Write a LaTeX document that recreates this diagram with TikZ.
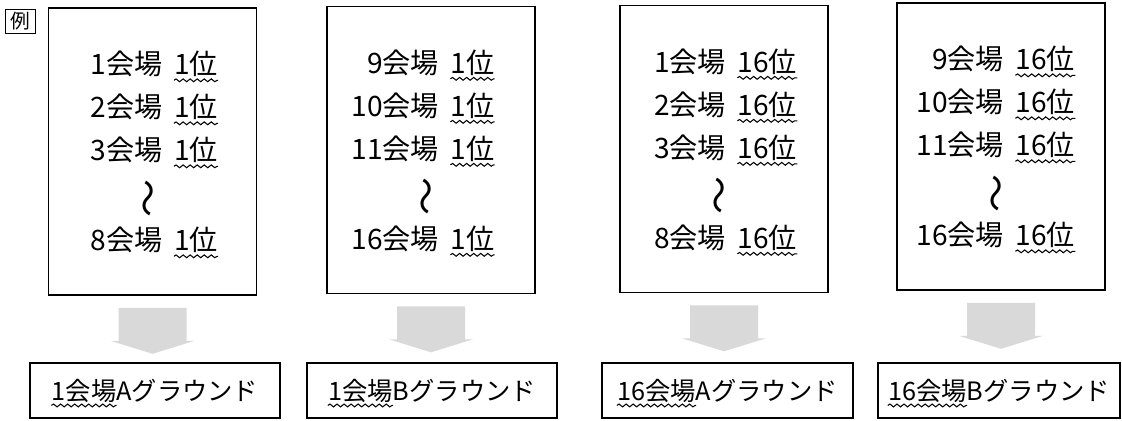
\documentclass[tikz,border=0pt]{standalone}
\usepackage{fontspec}
\setmainfont{Noto Sans CJK JP}
\usetikzlibrary{calc,positioning,decorations.pathmorphing}

\tikzset{
  listbox/.style={draw,line width=1.1pt,minimum width=5.2cm,minimum height=7.175cm,inner sep=0pt},
  venue/.style={anchor=east,inner sep=0pt,font=\fontsize{20}{20}\selectfont},
  rank/.style={anchor=west,inner sep=0pt,font=\fontsize{20}{20}\selectfont},
  wavy/.style={line width=0.75pt,decorate,decoration={snake,amplitude=1pt,segment length=5pt}},
  grbox/.style={draw,line width=1.1pt,minimum height=1.375cm,inner sep=0pt},
  grtext/.style={inner sep=0pt,font=\fontsize{18}{18}\selectfont},
  shade/.style={fill=gray!30,draw=none}
}

\begin{document}
\begin{tikzpicture}[x=0.025cm,y=-0.025cm]
\useasboundingbox (0,0) rectangle (1122,420);
\node (rei) [draw,line width=0.8pt,inner xsep=3.5pt,inner ysep=2pt,font=\fontsize{14}{14}\selectfont] at (20.5,21.5) {例};

% the four lists
\node (L1) [listbox] at (152.5,151.5) {};
\node (L2) [listbox] at (431,150) {};
\node (L3) [listbox] at (724,149) {};
\node (L4) [listbox] at (1001,146.5) {};

\foreach \b/\dx/\r/\va/\vb/\vc/\vd in {L1/115/1/1/2/3/8, L2/113/1/9/10/11/16, L3/107/16/1/2/3/8, L4/108/16/9/10/11/16}{
  \foreach \v/\dy [count=\i] in {\va/57,\vb/100,\vc/143,\vd/233}{
    \node (\b v\i) [venue] at ($(\b.north west)+(\dx,\dy)$) {\v 会場};
    \node (\b r\i) [rank,right=0.28cm of \b v\i] {\r 位};
    \draw [wavy] ($(\b r\i.south west)+(0,3)$) -- ($(\b r\i.south east)+(0,3)$);
  }
  \node (\b t) [venue,anchor=center,rotate=90,font=\fontsize{27}{27}\selectfont] at ($(\b.north)+(0,191)$) {〜};
  % shaded arrow down
  \fill [shade,shift={(\b.south)}] (-34,12) -- (34,12) -- (34,45) -- (42,45) -- (0,58) -- (-42,45) -- (-34,45) -- cycle;
}

% grounds
\node (G1) [grbox,minimum width=6.25cm] at (155,390.5) {};
\node (G2) [grbox,minimum width=6.25cm] at (432,390.5) {};
\node (G3) [grbox,minimum width=6.275cm] at (727.5,390.5) {};
\node (G4) [grbox,minimum width=6.05cm] at (999,390.5) {};

\foreach \g/\v/\s in {G1/1/A, G2/1/B, G3/16/A, G4/16/B}{
  \node (\g t) [grtext] at (\g) {\v 会場\s グラウンド};
  \node (\g v) [grtext,anchor=west] at (\g t.west) {\phantom{\v 会場}};
  \draw [wavy] ($(\g v.south west)+(0,3)$) -- ($(\g v.south east)+(0,3)$);
}
\end{tikzpicture}
\end{document}
